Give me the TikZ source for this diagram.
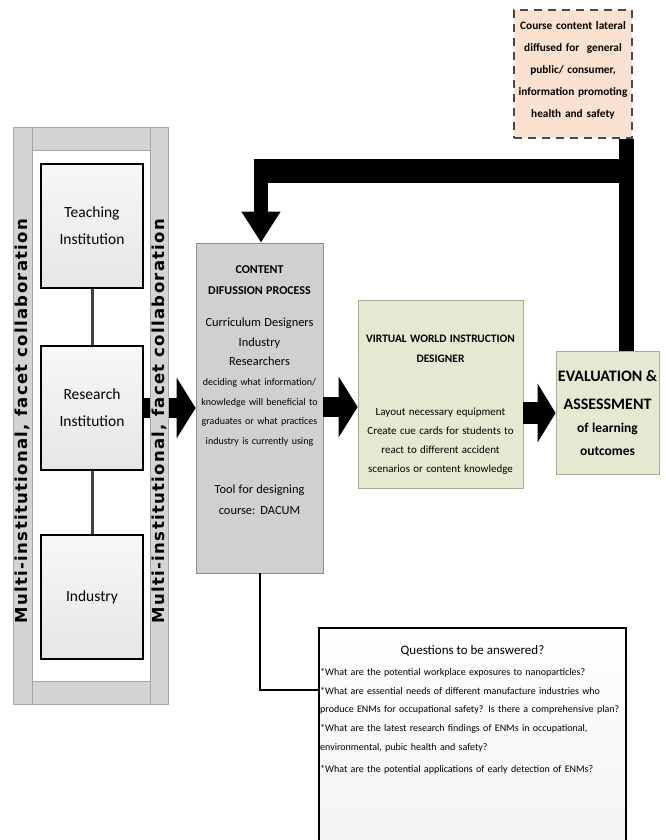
\documentclass[tikz,border=0pt]{standalone}
\usepackage{fontspec}
\setmainfont{Carlito}
\newfontfamily\collabfont[LetterSpace=8]{DejaVu Sans}
\usetikzlibrary{arrows.meta,calc}

\definecolor{bandgray}{HTML}{D4D4D4}
\definecolor{bandline}{HTML}{A6A6A6}
\definecolor{orgfill}{HTML}{E6E6E6}
\definecolor{procfill}{HTML}{D0D0D0}
\definecolor{procline}{HTML}{8E8E8E}
\definecolor{vwfill}{HTML}{E4EAD2}
\definecolor{vwline}{HTML}{A8AE94}
\definecolor{coursefill}{HTML}{FBE1CF}
\definecolor{courseline}{HTML}{4A4A4A}

\begin{document}
\begin{tikzpicture}[x=1pt, y=-1pt,
    band/.style={fill=bandgray, draw=bandline, line width=0.8pt},
    orgbox/.style={draw=black, line width=2pt, top color=gray!6, bottom color=orgfill, minimum width=102pt, minimum height=124pt, inner sep=0pt, text width=100pt, align=center, font=\fontsize{15.5}{27}\selectfont},
    procbox/.style={draw=procline, line width=0.8pt, fill=procfill, minimum width=127pt, minimum height=330pt, inner sep=0pt, text width=125pt, align=center},
    vwbox/.style={draw=vwline, line width=0.8pt, fill=vwfill, inner sep=0pt, align=center},
    coursebox/.style={draw=courseline, line width=2pt, dash pattern=on 8pt off 6pt, fill=coursefill, minimum width=118pt, minimum height=128pt, inner sep=0pt, text width=116pt, align=center, font=\bfseries\fontsize{11.3}{22}\selectfont},
    qbox/.style={draw=black, line width=2pt, top color=white, bottom color=gray!10, minimum width=307pt, minimum height=240pt, inner sep=0pt},
    link/.style={draw=black!75, line width=3pt},
    bigarrow/.style={line width=20pt, -{Triangle[width=60pt, length=19pt]}},
    collab/.style={rotate=90, inner sep=0pt, font=\collabfont\bfseries\fontsize{16.5}{16.5}\selectfont},
]
    \useasboundingbox (0,0) rectangle (665,840);

    % collaboration panel
    \filldraw[band] (13,127) rectangle (168,704);
    \filldraw[fill=white, draw=bandline, line width=0.8pt] (32,150) rectangle (150,681);
    \draw[bandline, line width=0.8pt] (32,127) -- (32,704);

    \node[orgbox, anchor=north west] (teach) at (40,163) {Teaching\\Institution};
    \node[orgbox, anchor=north west] (research) at (40,345) {Research\\Institution};
    \node[orgbox, anchor=north west] (industry) at (40,534) {Industry};
    \draw[link] (teach) -- (research);
    \draw[link] (research) -- (industry);

    % main process boxes
    \node[procbox] (content) at (259.5,408) {%
        {\bfseries\fontsize{12}{21}\selectfont CONTENT\\DIFUSSION PROCESS\par}\vspace{13pt}
        {\fontsize{12.4}{19.5}\selectfont Curriculum Designers\\Industry\\Researchers\par}
        {\fontsize{10}{19.8}\selectfont deciding what information/\\knowledge will beneficial to\\graduates or what practices\\industry is currently using\par}\vspace{28pt}
        {\fontsize{12.4}{21}\selectfont Tool for designing\\course: DACUM\rule[-36pt]{0pt}{36pt}\par}};
    \node[vwbox, minimum width=165pt, minimum height=188pt, text width=163pt] (vw) at (440.5,394) {%
        {\bfseries\fontsize{11.4}{20}\selectfont \rule{0pt}{29pt}VIRTUAL WORLD INSTRUCTION\\DESIGNER\par}\vspace{34pt}
        {\fontsize{11}{19}\selectfont Layout necessary equipment\\Create cue cards for students to\\react to different accident\\scenarios or content knowledge\par}};
    \node[vwbox, minimum width=103pt, minimum height=123pt, text width=101pt] (eval) at (607.5,413) {%
        {\bfseries\fontsize{16}{28}\selectfont EVALUATION \&\\ASSESSMENT\par}
        {\bfseries\fontsize{13.5}{23}\selectfont of learning\\outcomes\par}};
    \node[coursebox] (course) at (573,74) {Course content lateral\\diffused for\ \ general\\public/ consumer,\\information promoting\\health and safety\rule[-8pt]{0pt}{8pt}};

    % flow arrows
    \coordinate (mid) at (0,407);
    \draw[bigarrow] (research.east) -- (content.west |- research.east);
    \draw[bigarrow] (content.east |- mid) -- (vw.west |- mid);
    \draw[bigarrow, line width=22pt, -{Triangle[width=58pt, length=18pt]}] (vw.east |- eval.west) -- (eval.west);

    % right band over the arrow
    \filldraw[band] (150,127) rectangle (168,704);
    \node[collab] (lefttag) at (22.5,421) {Multi-institutional, facet collaboration};
    \node[collab] (righttag) at (159.5,421) {Multi-institutional, facet collaboration};

    % feedback loop
    \coordinate (fb) at (626,171);
    \coordinate (bend) at (261,171);
    \draw[line width=15pt] (course.south -| fb) -- (eval.north -| fb);
    \draw[line width=24pt] ([xshift=7.5pt]fb) -- ([xshift=-7pt]bend);
    \draw[line width=14pt, -{Triangle[width=37pt, length=31pt]}] ([yshift=12pt]bend) -- (content.north -| bend);

    % questions
    \node[qbox, anchor=north west] (quest) at (318,627) {};
    \node[font=\fontsize{13}{16}\selectfont] (qtitle) at ([yshift=-24pt]quest.north) {Questions to be answered?};
    \node[anchor=north west, inner sep=0pt, text width=330pt, align=left, font=\fontsize{10}{18.8}\selectfont] (qlist) at ([xshift=2pt,yshift=-41pt]quest.north west) {%
        *What are the potential workplace exposures to nanoparticles?\\{}%
        *What are essential needs of different manufacture industries who\\
        produce ENMs for occupational safety? Is there a comprehensive plan?\\{}%
        *What are the latest research findings of ENMs in occupational,\\
        environmental, pubic health and safety?\\[3pt]{}%
        *What are the potential applications of early detection of ENMs?};
    \draw[line width=2pt] (content.south) |- ([yshift=-63pt]quest.north west);
\end{tikzpicture}
\end{document}
